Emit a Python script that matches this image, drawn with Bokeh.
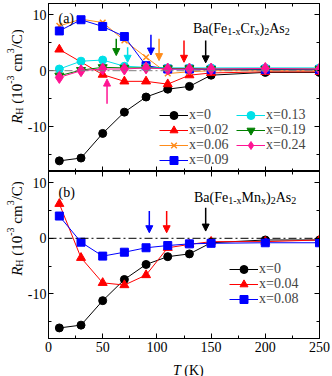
from math import pi
from bokeh.plotting import figure
from bokeh.models import (Range1d, LinearAxis, FixedTicker, Label, Arrow, NormalHead,
                          Legend, LegendItem, Span, CustomJSTickFormatter)
from bokeh.layouts import column, row
from bokeh.embed import file_html
from bokeh.resources import INLINE

FONT = "Liberation Serif"

# ---------------- data ----------------
T = [10, 30, 50, 70, 90, 110, 130, 150, 200, 250]
T_cr002 = [10, 50, 70, 90, 110, 130, 150, 200, 250]

fe_x0 = [-16.1, -15.6, -11.2, -7.4, -4.7, -3.3, -2.8, -0.8, -0.3, -0.3]
cr_x002 = [3.8, -0.7, -1.9, -1.9, -2.4, -0.8, -0.4, -0.2, -0.2]
cr_x006 = [8.0, 9.2, 8.6, 5.4, 2.4, -0.5, -0.2, 0.0, 0.0, 0.0]
cr_x009 = [7.1, 9.1, 7.9, 6.1, 0.9, 0.3, 0.3, 0.2, 0.2, 0.2]
cr_x013 = [0.3, 1.7, 1.9, 0.8, 0.6, 0.5, 0.5, 0.5, 0.5, 0.5]
cr_x019 = [-0.9, 0.1, 0.6, 0.5, 0.5, 0.4, 0.4, 0.3, 0.3, 0.3]
cr_x024 = [-1.2, 0.0, 0.3, 0.3, 0.5, 0.3, 0.3, 0.3, 0.4, 0.3]

mn_x004 = [6.2, -3.5, -8.0, -8.4, -6.6, -1.7, -1.1, -0.6, -0.6, -0.3]
mn_x008 = [4.0, -0.7, -3.2, -2.5, -1.7, -1.3, -1.0, -0.9, -0.8, -0.8]

cr_arrow_T = [62.5, 73, 94.5, 102, 125, 145]
cr_arrow_top = [5.7, 4.2, 6.4, 5.7, 5.4, 5.4]
cr_arrow_tip = [2.7, 1.5, 2.8, 1.8, 1.5, 1.4]
cr_arrow_col = ["#008000", "#00e0e8", "#0000ff", "#ff8c1a", "#ff0000", "#000000"]
cr_up_T, cr_up_bottom, cr_up_tip = 54, -5.9, -1.5

mn_arrow_T = [93, 109, 145]
mn_arrow_top = [4.9, 4.9, 5.5]
mn_arrow_tip = [1.0, 1.0, 1.3]
mn_arrow_col = ["#0000ff", "#ff0000", "#000000"]

x_ticks = [0, 50, 100, 150, 200, 250]
x_minor = [25, 75, 125, 175, 225]
y_ticks = [-10, 0, 10]
y_minor = [-15, -5, 5]
y_labels = {-10: "-10", 0: "0", 10: "10"}

# ---------------- text helpers ----------------
WID = {' ': 250, '(': 333, ')': 333, '-': 333, '.': 250, '/': 278, '=': 564,
       'A': 722, 'B': 667, 'C': 667, 'F': 556, 'H': 722, 'K': 722, 'M': 889,
       'R': 667, 'T': 611, 'a': 444, 'b': 500, 'c': 444, 'e': 444, 'm': 778,
       'n': 500, 'r': 333, 's': 389, 'x': 500}
WID_IT = {'R': 611, 'T': 556}


def tw(s, size, italic=False):
    tot = 0
    for ch in s:
        if ch.isdigit():
            tot += 500
        elif italic and ch in WID_IT:
            tot += WID_IT[ch]
        else:
            tot += WID.get(ch, 500)
    return tot * size / 1000.0


def rich(p, x, y, pieces, angle=0.0, center=False):
    total = sum(tw(t, s, it) for t, s, it, sh in pieces)
    pos = -total / 2.0 if center else 0.0
    for t, s, it, sh in pieces:
        lead = len(t) - len(t.lstrip(" "))
        pos += tw(" " * lead, s, it)
        t = t.lstrip(" ")
        if angle == 0:
            xo, yo = pos, sh
        else:
            xo, yo = -sh, pos
        p.add_layout(Label(x=x, y=y, x_offset=xo, y_offset=yo, text=t, angle=angle,
                           text_font=FONT, text_font_size=f"{s}px",
                           text_font_style="italic" if it else "normal",
                           text_baseline="alphabetic", text_align="left",
                           text_color="black"))
        pos += tw(t, s, it)


def strip(width, height):
    s = figure(width=width, height=height, output_backend="svg", toolbar_location=None,
               x_range=Range1d(0, width), y_range=Range1d(height, 0), min_border=0,
               x_axis_location=None, y_axis_location=None)
    s.grid.visible = False
    s.outline_line_color = None
    s.border_fill_color = "white"
    s.background_fill_color = "white"
    return s


STRIP_W = 24


def make_fig(height, top, bottom, show_xlabels):
    p = figure(width=332 - STRIP_W, height=height, output_backend="svg",
               toolbar_location=None,
               x_range=Range1d(0, 250), y_range=Range1d(-18, 12),
               min_border_left=47 - STRIP_W, min_border_right=13, min_border_top=top,
               min_border_bottom=bottom, x_axis_location=None, y_axis_location=None)
    p.grid.visible = False
    p.outline_line_color = "black"
    p.outline_line_width = 1
    p.background_fill_color = "white"
    p.border_fill_color = "white"
    empty = CustomJSTickFormatter(code="return ''")

    def style(ax, labels):
        ax.axis_line_color = "black"
        ax.major_tick_in = 5
        ax.major_tick_out = 0
        ax.minor_tick_in = 3
        ax.minor_tick_out = 0
        ax.major_tick_line_color = "black"
        ax.minor_tick_line_color = "black"
        ax.major_label_text_font = FONT
        ax.major_label_text_font_size = "14px"
        ax.major_label_text_color = "black"
        if not labels:
            ax.formatter = empty
            ax.major_label_text_font_size = "0px"
            ax.major_label_standoff = 0

    xt = FixedTicker(ticks=x_ticks, minor_ticks=x_minor)
    yt = FixedTicker(ticks=y_ticks, minor_ticks=y_minor)
    xb = LinearAxis(ticker=xt)
    style(xb, show_xlabels)
    xb.major_label_standoff = 3 if show_xlabels else 0
    p.add_layout(xb, "below")
    xa = LinearAxis(ticker=xt)
    style(xa, False)
    p.add_layout(xa, "above")
    yl = LinearAxis(ticker=yt, major_label_overrides=y_labels)
    style(yl, True)
    yl.major_label_standoff = 2
    p.add_layout(yl, "left")
    yr = LinearAxis(ticker=yt)
    style(yr, False)
    p.add_layout(yr, "right")
    return p


def series(p, x, y, color, marker, size, lw=1.0):
    l = p.line(x, y, line_color=color, line_width=lw)
    if marker == "x":
        s = p.scatter(x, y, marker="x", size=size, line_color=color, line_width=1.5)
    else:
        s = p.scatter(x, y, marker=marker, size=size, line_color=color, fill_color=color)
    return [l, s]


def legend_rows(p, items, vx, vy_list):
    for (lab, r), vy in zip(items, vy_list):
        lg = Legend(items=[LegendItem(label=lab, renderers=r)],
                    location=(vx, vy), glyph_width=29, glyph_height=20, label_height=20,
                    label_standoff=1, spacing=0, padding=0, margin=0,
                    border_line_alpha=0, background_fill_alpha=0,
                    label_text_font=FONT, label_text_font_size="14px")
        p.add_layout(lg)


def ylabel(s, x, center_y):
    rich(s, x, center_y, [("R", 15, True, 0), ("H", 10, False, -3),
                          (" (10", 15, False, 0), ("-3", 10, False, 6),
                          (" cm", 15, False, 0), ("3", 10, False, 6),
                          ("/C)", 15, False, 0)], angle=pi / 2, center=True)


def arrow(p, x, y0, y1, color):
    p.add_layout(Arrow(x_start=x, y_start=y0, x_end=x, y_end=y1, line_color=color,
                       line_width=1.5,
                       end=NormalHead(size=7, fill_color=color, line_color=color)))


# ---------------- panel (a) ----------------
p1 = make_fig(171, 3, 0, False)
p1.add_layout(Span(location=0, dimension="width", line_color="#7f7f7f",
                   line_dash="8 3 2 3", line_width=1))
r0 = series(p1, T, fe_x0, "black", "circle", 8)
r2 = series(p1, T_cr002, cr_x002, "#ff0000", "triangle", 9)
r6 = series(p1, T, cr_x006, "#ff8c1a", "x", 8)
r9 = series(p1, T, cr_x009, "#0000ff", "square", 8)
r13 = series(p1, T, cr_x013, "#00e0e8", "circle", 8)
r19 = series(p1, T, cr_x019, "#008000", "inverted_triangle", 9)
r24 = series(p1, T, cr_x024, "#ff1493", "diamond", 12)
for xa_, y0_, y1_, c_ in zip(cr_arrow_T, cr_arrow_top, cr_arrow_tip, cr_arrow_col):
    arrow(p1, xa_, y0_, y1_, c_)
arrow(p1, cr_up_T, cr_up_bottom, cr_up_tip, "#ff1493")
legend_rows(p1, [("x=0", r0), ("x=0.02", r2), ("x=0.06", r6), ("x=0.09", r9)], 111,
            [46, 31, 16, 1])
legend_rows(p1, [("x=0.13", r13), ("x=0.19", r19), ("x=0.24", r24)], 188, [46, 31, 16])
rich(p1, 9.2, 9.3, [("(a)", 14, False, 0)])
rich(p1, 133.3, 7.5, [("Ba(Fe", 14, False, 0), ("1-x", 10, False, -3), ("Cr", 14, False, 0),
                      ("x", 10, False, -3), (")", 14, False, 0), ("2", 10, False, -3),
                      ("As", 14, False, 0), ("2", 10, False, -3)])

# ---------------- panel (b) ----------------
p2 = make_fig(187, 0, 20, True)
p2.add_layout(Span(location=0, dimension="width", line_color="black",
                   line_dash="8 3 2 3", line_width=1))
q0 = series(p2, T, fe_x0, "black", "circle", 8)
q4 = series(p2, T, mn_x004, "#ff0000", "triangle", 9)
q8 = series(p2, T, mn_x008, "#0000ff", "square", 8)
for xa_, y0_, y1_, c_ in zip(mn_arrow_T, mn_arrow_top, mn_arrow_tip, mn_arrow_col):
    arrow(p2, xa_, y0_, y1_, c_)
legend_rows(p2, [("x=0", q0), ("x=0.04", q4), ("x=0.08", q8)], 181, [59, 44, 29])
rich(p2, 9.2, 8.2, [("(b)", 14, False, 0)])
rich(p2, 134.2, 7.3, [("Ba(Fe", 14, False, 0), ("1-x", 10, False, -3), ("Mn", 14, False, 0),
                      ("x", 10, False, -3), (")", 14, False, 0), ("2", 10, False, -3),
                      ("As", 14, False, 0), ("2", 10, False, -3)])

# ---------------- axis title strips ----------------
ys = strip(STRIP_W, 376)
ylabel(ys, 16, 76)
ylabel(ys, 16, 228)
xs = strip(332 - STRIP_W, 18)
rich(xs, 183 - STRIP_W, 11.5, [("T", 14, True, 0), (" (K)", 14, False, 0)], center=True)

layout = row(ys, column(p1, p2, xs, spacing=0), spacing=0)
open("out.html", "w").write(file_html(layout, INLINE))
